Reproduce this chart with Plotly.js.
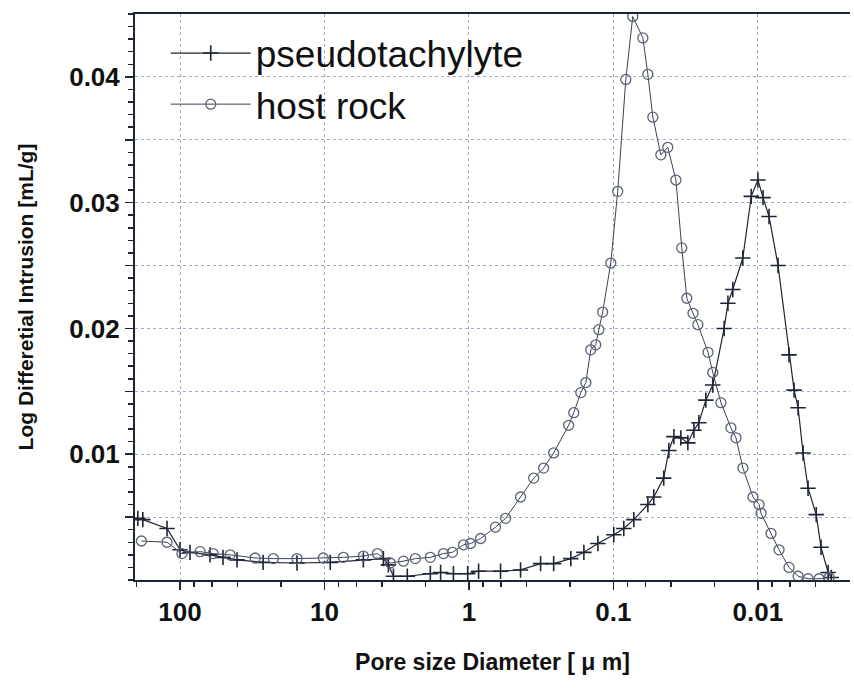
<!DOCTYPE html>
<html><head><meta charset="utf-8">
<script src="https://cdn.plot.ly/plotly-3.0.1.min.js"></script>
<style>html,body{margin:0;padding:0;background:#fff}#chart{width:854px;height:689px}</style>
</head><body><div id="chart"></div>
<script>
// Pseudotachylyte (+ markers): pore diameter [µm] and log differential intrusion [mL/g]
var pseudoDiameter = [196, 181, 123, 100, 85.3, 62, 50.4, 40.3, 26.6, 15.5, 9.12, 5.38, 3.91, 3.61, 3.33, 2.67, 1.85, 1.57, 1.28, 1.02, 0.857, 0.604, 0.439, 0.319, 0.259, 0.197, 0.16, 0.128, 0.0993, 0.0847, 0.0722, 0.0577, 0.0525, 0.0448, 0.0413, 0.0381, 0.0341, 0.0305, 0.0277, 0.0256, 0.0229, 0.0205, 0.0171, 0.0161, 0.0149, 0.0127, 0.0111, 0.00998, 0.0092, 0.00836, 0.00724, 0.00608, 0.00561, 0.00526, 0.00486, 0.00449, 0.00394, 0.00365, 0.00326, 0.0031];
var pseudoIntrusion = [0.0049, 0.0048, 0.0041, 0.0024, 0.0022, 0.0020, 0.0018, 0.0016, 0.0014, 0.00135, 0.0014, 0.0016, 0.0017, 0.0012, 0.0003, 0.0003, 0.0005, 0.0006, 0.0005, 0.0005, 0.0007, 0.0007, 0.0008, 0.0013, 0.0013, 0.0017, 0.0022, 0.0029, 0.0036, 0.0041, 0.0048, 0.0060, 0.0066, 0.0081, 0.0103, 0.0114, 0.0113, 0.0109, 0.0119, 0.0125, 0.0143, 0.0155, 0.0200, 0.0220, 0.0231, 0.0256, 0.0305, 0.0318, 0.0304, 0.0289, 0.0250, 0.0179, 0.0151, 0.0137, 0.0101, 0.0073, 0.0052, 0.0026, 0.0006, 0.0002];

// Host rock (o markers)
var hostDiameter = [185, 123, 97, 72.6, 59, 45, 30.2, 22.6, 15.5, 10.2, 7.4, 5.38, 4.3, 3.5, 2.84, 2.35, 1.85, 1.5, 1.3, 1.09, 0.975, 0.83, 0.655, 0.557, 0.439, 0.356, 0.304, 0.259, 0.204, 0.188, 0.168, 0.155, 0.1435, 0.1325, 0.126, 0.1186, 0.1042, 0.0933, 0.082, 0.0734, 0.0625, 0.0577, 0.0533, 0.0469, 0.042, 0.0369, 0.0336, 0.031, 0.0281, 0.026, 0.0221, 0.0205, 0.018, 0.01535, 0.01416, 0.01268, 0.0108, 0.0098, 0.0095, 0.0081, 0.00713, 0.00608, 0.00526, 0.00449, 0.00377, 0.00321];
var hostIntrusion = [0.0031, 0.0030, 0.0021, 0.00225, 0.0021, 0.0020, 0.00175, 0.0017, 0.0017, 0.00175, 0.0018, 0.0019, 0.0021, 0.00135, 0.0015, 0.0017, 0.0018, 0.0021, 0.0022, 0.0028, 0.0029, 0.0033, 0.0042, 0.0049, 0.0066, 0.0081, 0.0089, 0.0101, 0.0123, 0.0133, 0.0149, 0.0157, 0.0183, 0.0187, 0.0199, 0.0213, 0.0252, 0.0309, 0.0398, 0.0448, 0.0431, 0.0402, 0.0368, 0.0338, 0.0344, 0.0318, 0.0264, 0.0224, 0.0212, 0.0203, 0.0181, 0.0165, 0.0141, 0.0121, 0.0113, 0.0089, 0.0066, 0.0060, 0.0053, 0.0037, 0.0024, 0.0010, 0.0003, 0.0001, 0.0001, 0.0002];

var seriesNames = ['pseudotachylyte', 'host rock'];
var xTickVals = [100, 10, 1, 0.1, 0.01];
var xTickText = ['100', '10', '1', '0.1', '0.01'];
var xMinorVals = [200, 80, 60, 40, 20, 8, 6, 4, 2, 0.8, 0.6, 0.4, 0.2, 0.08, 0.06, 0.04, 0.02, 0.008, 0.006, 0.004];
var yTickVals = [0.005, 0.01, 0.015, 0.02, 0.025, 0.03, 0.035, 0.04];
var yTickText = ['', '0.01', '', '0.02', '', '0.03', '', '0.04'];

var lineCol = '#1e2536';
var sans = '"Liberation Sans", Arial, sans-serif';

var traces = [
  {x: pseudoDiameter, y: pseudoIntrusion, name: seriesNames[0], type: 'scatter', mode: 'lines+markers',
   line: {color: lineCol, width: 1.2},
   marker: {symbol: 'cross-thin-open', size: 11, line: {color: '#151a28', width: 1.6}}},
  {x: hostDiameter, y: hostIntrusion, name: seriesNames[1], type: 'scatter', mode: 'lines+markers',
   line: {color: '#3a4256', width: 1},
   marker: {symbol: 'circle-open', size: 10, color: '#5b6275', line: {color: '#5b6275', width: 1.3}}}
];

var layout = {
  width: 854, height: 689,
  margin: {l: 135, r: 4, t: 14, b: 109},
  paper_bgcolor: '#fff', plot_bgcolor: '#fff',
  showlegend: true,
  legend: {x: 0.043, y: 0.985, xanchor: 'left', yanchor: 'top', bgcolor: 'rgba(0,0,0,0)',
           font: {family: sans, size: 37, color: '#111'},
           itemwidth: 80, tracegroupgap: 0},
  xaxis: {type: 'log', range: [Math.log10(205), Math.log10(0.0023)],
          tickmode: 'array', tickvals: xTickVals, ticktext: xTickText,
          ticks: 'outside', ticklen: 8, tickwidth: 1.5, tickcolor: lineCol,
          showline: true, linecolor: lineCol, linewidth: 2, mirror: true,
          showgrid: true, gridcolor: '#a3aac4', griddash: '3px,3px', gridwidth: 1,
          zeroline: false,
          minor: {tickmode: 'array', tickvals: xMinorVals, ticks: 'outside', ticklen: 5, tickwidth: 1.5, tickcolor: lineCol, showgrid: false},
          tickfont: {family: sans, size: 26, color: '#111', weight: 'bold'},
          title: {text: 'Pore size Diameter [ \u03bc m]', font: {family: sans, size: 23, color: '#111', weight: 'bold'}, standoff: 28}},
  yaxis: {range: [0, 0.045], tickmode: 'array', tickvals: yTickVals, ticktext: yTickText,
          ticks: 'outside', ticklen: 8, tickwidth: 1.5, tickcolor: lineCol,
          showline: true, linecolor: lineCol, linewidth: 2,
          showgrid: true, gridcolor: '#a3aac4', griddash: '3px,3px', gridwidth: 1,
          zeroline: false,
          minor: {dtick: 0.001, ticks: 'outside', ticklen: 5, tickwidth: 1.5, tickcolor: lineCol, showgrid: false},
          tickfont: {family: sans, size: 26, color: '#111', weight: 'bold'},
          title: {text: 'Log Differetial Intrusion [mL/g]', font: {family: sans, size: 21, color: '#111', weight: 'bold'}, standoff: 30}}
};

Plotly.newPlot('chart', traces, layout, {displayModeBar: false, staticPlot: true});
</script></body></html>
